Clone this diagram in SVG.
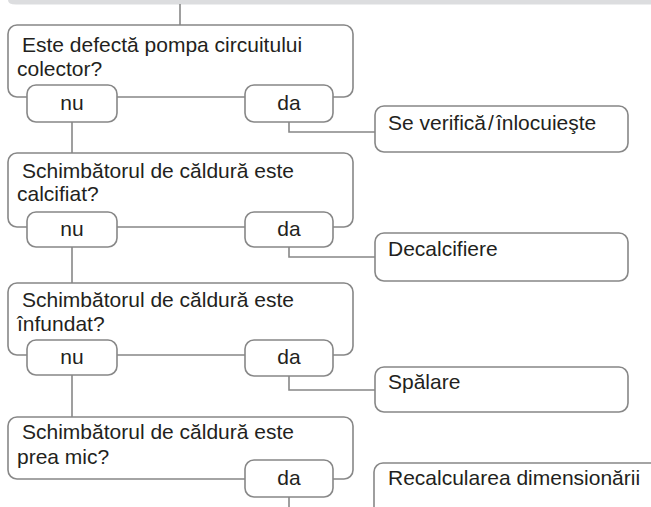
<svg xmlns="http://www.w3.org/2000/svg" width="651" height="507" viewBox="0 0 651 507">
<style>
.box{fill:#fff;stroke:#878787;stroke-width:1.6}
.ln{fill:none;stroke:#878787;stroke-width:1.6}
text{font-family:"Liberation Sans",Arial,sans-serif;font-size:21px;fill:#231f20}
.c{text-anchor:middle}
</style>
<rect width="651" height="507" fill="#fff"/>
<path d="M0,0 H651 V4.5 H16 Q8,4.5 8,0 Z" fill="#dcdddf"/>
<g id="connectors">
<path class="ln" d="M180,4 V25"/>
<path class="ln" d="M72,121 V153"/>
<path class="ln" d="M72,247 V283"/>
<path class="ln" d="M72,375 V417"/>
<path class="ln" d="M289,122 V132 H375"/>
<path class="ln" d="M289,247 V257 H375"/>
<path class="ln" d="M289,376 V390 H375"/>
<path class="ln" d="M289,497 V507"/>
</g>
<g id="q1">
<rect class="box" x="8" y="25" width="345" height="72" rx="9"/>
<text x="22" y="52">Este defectă pompa circuitului</text>
<text x="17" y="76">colector?</text>
</g>
<g id="q1-nu"><rect class="box" x="27" y="85" width="90" height="37" rx="9"/><text class="c" x="72" y="110">nu</text></g>
<g id="q1-da"><rect class="box" x="245" y="85" width="88" height="37" rx="9"/><text class="c" x="289" y="110">da</text></g>
<g id="r1"><rect class="box" x="375" y="106" width="253" height="46" rx="9"/><text x="388" y="130">Se verifică<tspan dx="2">/</tspan><tspan dx="2">înlocuieşte</tspan></text></g>

<g id="q2">
<rect class="box" x="8" y="153" width="345" height="74" rx="9"/>
<text x="22" y="178">Schimbătorul de căldură este</text>
<text x="17" y="201">calcifiat?</text>
</g>
<g id="q2-nu"><rect class="box" x="27" y="212" width="90" height="35" rx="9"/><text class="c" x="72" y="236">nu</text></g>
<g id="q2-da"><rect class="box" x="245" y="212" width="88" height="35" rx="9"/><text class="c" x="289" y="236">da</text></g>
<g id="r2"><rect class="box" x="375" y="233" width="253" height="48" rx="9"/><text x="388" y="256">Decalcifiere</text></g>

<g id="q3">
<rect class="box" x="8" y="283" width="345" height="72" rx="9"/>
<text x="22" y="307">Schimbătorul de căldură este</text>
<text x="17" y="331">înfundat?</text>
</g>
<g id="q3-nu"><rect class="box" x="27" y="340" width="90" height="35" rx="9"/><text class="c" x="72" y="364">nu</text></g>
<g id="q3-da"><rect class="box" x="245" y="340" width="88" height="36" rx="9"/><text class="c" x="289" y="364">da</text></g>
<g id="r3"><rect class="box" x="375" y="367" width="253" height="45" rx="9"/><text x="388" y="389">Spălare</text></g>

<g id="q4">
<rect class="box" x="8" y="417" width="345" height="62" rx="9"/>
<text x="22" y="439">Schimbătorul de căldură este</text>
<text x="17" y="464">prea mic?</text>
</g>
<g id="q4-da"><rect class="box" x="245" y="460" width="88" height="37" rx="9"/><text class="c" x="289" y="485">da</text></g>
<g id="r4"><rect class="box" x="374" y="463" width="286" height="60" rx="9"/><text x="388" y="485">Recalcularea dimensionării</text></g>
</svg>
